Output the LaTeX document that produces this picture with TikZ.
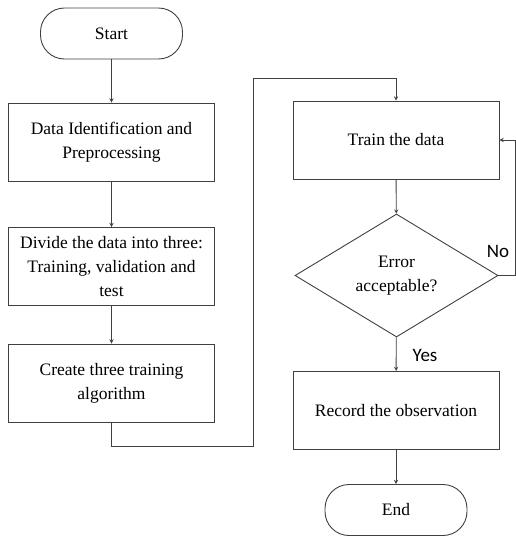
\documentclass[tikz,border=0pt]{standalone}
\usepackage{fontspec}
\setmainfont{Liberation Serif}
\newfontfamily\answerfont{Carlito}
\usetikzlibrary{shapes.geometric}

\begin{document}
\begin{tikzpicture}[x=1pt, y=-1pt, line width=0.9pt, >=stealth,
    every node/.style={font=\fontsize{17.5}{24}\selectfont},
    stepbox/.style={draw=black!75, align=center, minimum width=206pt, minimum height=78pt, inner sep=2pt},
    terminal/.style={draw=black!75, rounded corners=24pt, minimum width=142pt, minimum height=51pt},
    decision/.style={draw=black!75, diamond, aspect=1.65, align=center, minimum width=203pt, minimum height=123pt, inner sep=0pt},
    answer/.style={font=\answerfont\fontsize{19}{22}\selectfont},
    flow/.style={->, draw=black!75}]
    \useasboundingbox (0,0) rectangle (516,536);

    % left column
    \node[terminal] (start) at (111.5,33.5) {Start};
    \node[stepbox] (prep) at (111.5,142) {Data Identification and\\Preprocessing};
    \node[stepbox] (split) at (111.5,266.5) {Divide the data into three:\\Training, validation and\\test};
    \node[stepbox] (algo) at (111.5,383) {Create three training\\algorithm};

    % right column
    \node[stepbox] (train) at (396,140) {Train the data};
    \node[decision] (check) at (396.5,275.5) {Error\\acceptable?};
    \node[stepbox] (record) at (396,410.5) {Record the observation};
    \node[terminal] (end) at (396,510) {End};

    \coordinate (bendA) at (111.5,446);
    \coordinate (bendB) at (253,446);
    \coordinate (bendC) at (253,78);
    \coordinate (bendD) at (396,78);
    \coordinate (loopA) at (515.5,275.5);
    \coordinate (loopB) at (515.5,140);

    \draw[flow] (start) -- (prep);
    \draw[flow] (prep) -- (split);
    \draw[flow] (split) -- (algo);
    \draw[flow] (algo.south) -- (bendA) -- (bendB) -- (bendC) -- (bendD) -- (train.north);
    \draw[flow] (train) -- (check);
    \draw[flow] (check) -- (record);
    \draw[flow] (record) -- (end);
    \draw[flow] (check.east) -- (loopA) -- (loopB) -- (train.east);

    \node[answer] (no) at (498,251) {No};
    \node[answer] (yes) at (425,355) {Yes};
\end{tikzpicture}
\end{document}
